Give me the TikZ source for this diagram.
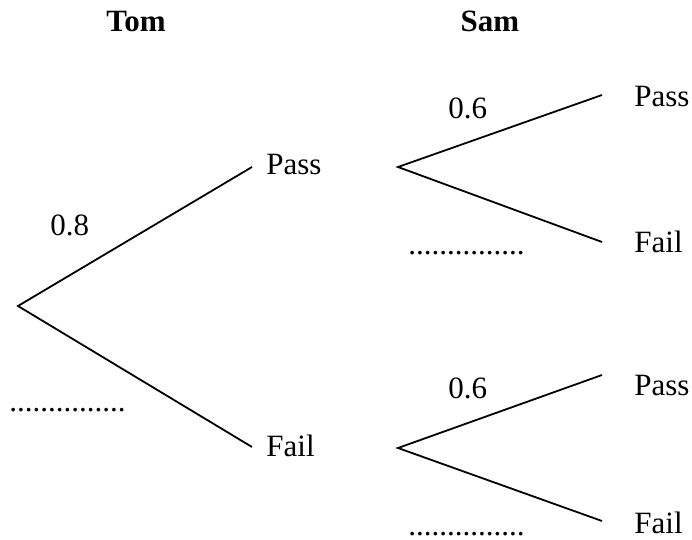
\documentclass[tikz,border=0pt]{standalone}
\usepackage{fontspec}
\setmainfont{Liberation Serif}
\usepackage{tikz}

\tikzset{
  lbl/.style={anchor=base west, inner sep=0pt, font=\fontsize{15.5}{18}\selectfont},
  head/.style={anchor=base, inner sep=0pt, font=\fontsize{15.5}{18}\selectfont\bfseries},
  branch/.style={line width=0.9pt}
}

\begin{document}
\begin{tikzpicture}[x=0.5pt, y=-0.5pt]
\useasboundingbox (0,0) rectangle (692,540);

% Headings
\node[head] (tom) at (136,32) {Tom};
\node[head] (sam) at (490,32) {Sam};

% Branch points
\coordinate (root) at (18,306);
\coordinate (tp) at (252,167);
\coordinate (tf) at (252,447);
\coordinate (forkP) at (398,167);
\coordinate (forkF) at (398,448);
\coordinate (pp) at (602,95);
\coordinate (pf) at (602,242);
\coordinate (fp) at (602,375);
\coordinate (ff) at (602,521);

% Tom's branches
\draw[branch] (tp) -- (root) -- (tf);
\node[lbl] (tomPass) at (266,175) {Pass};
\node[lbl] (tomFail) at (266,456) {Fail};
\node[lbl] (pTom) at (50,236) {0.8};
\node[lbl] (qTom) at (9,411) {...............};

% Sam's branches after Pass
\draw[branch] (pp) -- (forkP) -- (pf);
\node[lbl] (samPP) at (634,107) {Pass};
\node[lbl] (samPF) at (634,253) {Fail};
\node[lbl] (pSam1) at (448,119) {0.6};
\node[lbl] (qSam1) at (408,255) {...............};

% Sam's branches after Fail
\draw[branch] (fp) -- (forkF) -- (ff);
\node[lbl] (samFP) at (634,395) {Pass};
\node[lbl] (samFF) at (634,533) {Fail};
\node[lbl] (pSam2) at (448,399) {0.6};
\node[lbl] (qSam2) at (408,535) {...............};

\end{tikzpicture}
\end{document}
